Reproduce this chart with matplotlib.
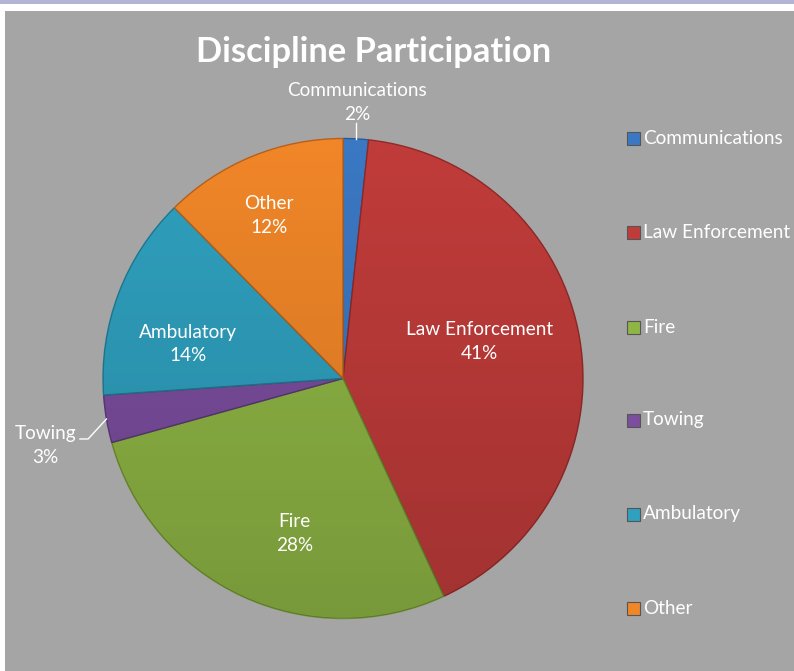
import numpy as np
import matplotlib
matplotlib.use("Agg")
import matplotlib.pyplot as plt
from matplotlib.patches import Rectangle, Circle

# ---- data ----
categories = ["Communications", "Law Enforcement", "Fire", "Towing", "Ambulatory", "Other"]
values = [1.7, 41.4, 27.6, 3.2, 13.7, 12.4]
title = "Discipline Participation"

# ---- style ----
colors = ["#3B78C3", "#C03C3A", "#8FB645", "#7B4E9E", "#2FA0BE", "#F08628"]
edge_colors = ["#2A5A96", "#8E2A29", "#6A8A2E", "#5A3878", "#1F7890", "#B8601A"]
FONT = ["Lato", "DejaVu Sans"]
plt.rcParams["font.family"] = FONT
W, H = 794, 671
BG = "#A5A5A5"
LABEL_FS = 13.7
LS = 1.47

fig = plt.figure(figsize=(W / 100, H / 100), dpi=100, facecolor="white")

def fx(x):
    return x / W

def fy(y):
    return 1 - y / H

# background panel and top border
fig.add_artist(Rectangle((fx(5), 0), 1 - fx(5), fy(11), transform=fig.transFigure,
                         facecolor=BG, edgecolor="none", zorder=0))
fig.add_artist(Rectangle((0, fy(3.5)), 1, 3.5 / H, transform=fig.transFigure,
                         facecolor="#B3B3D6", edgecolor="none", zorder=0))

# title
fig.text(fx(373.5), fy(52), title, ha="center", va="center", fontsize=24.8,
         fontweight="bold", color="white")

# pie axes
cx, cy, r = 343, 378.5, 240
ax = fig.add_axes([fx(cx - r), fy(cy + r), 2 * r / W, 2 * r / H])
ax.set_facecolor("none")
wedges, _ = ax.pie(values, colors=colors, startangle=90, counterclock=False,
                   radius=1.0, wedgeprops=dict(linewidth=1.0))
for w, ec in zip(wedges, edge_colors):
    w.set_edgecolor(ec)
ax.set_xlim(-1, 1)
ax.set_ylim(-1, 1)
ax.set_aspect("equal", adjustable="box")
ax.axis("off")

# subtle vertical shading overlay (lighter top, darker bottom)
grad = np.linspace(0, 1, 256).reshape(-1, 1)
shade = np.zeros((256, 1, 4))
shade[..., 3] = 0.16 * grad
im = ax.imshow(shade, extent=(-1, 1, -1, 1), origin="upper", zorder=3,
               aspect="auto", interpolation="bilinear")
clip = Circle((0, 0), 1.0, transform=ax.transData)
im.set_clip_path(clip)

# data labels (offsets relative to pie centre, in pie radii)
pcts = [f"{round(v / sum(values) * 100)}%" for v in values]
inside_pos = {1: (0.57, 0.154), 2: (-0.203, -0.645), 4: (-0.645, 0.144), 5: (-0.307, 0.679)}
for i, (x, y) in inside_pos.items():
    ax.text(x, y, f"{categories[i]}\n{pcts[i]}", ha="center", va="center",
            fontsize=LABEL_FS, color="white", linespacing=LS, zorder=5)

def mid_point(w):
    t = np.deg2rad((w.theta1 + w.theta2) / 2)
    return np.cos(t), np.sin(t)

# Communications (outside, leader up)
mx, my = mid_point(wedges[0])
ax.plot([mx, mx], [my, 1.065], color="white", lw=1, zorder=5, clip_on=False)
ax.text(0.058, 1.15, f"{categories[0]}\n{pcts[0]}", ha="center", va="center",
        fontsize=LABEL_FS, color="white", linespacing=LS, zorder=5, clip_on=False)

# Towing (outside, leader left)
mx, my = mid_point(wedges[3])
ax.plot([mx, -1.062, -1.096], [my, -0.252, -0.252], color="white", lw=1,
        zorder=5, clip_on=False)
ax.text(-1.24, -0.28, f"{categories[3]}\n{pcts[3]}", ha="center", va="center",
        fontsize=LABEL_FS, color="white", linespacing=LS, zorder=5, clip_on=False)

# legend
leg_y = [138, 232, 327, 420, 514, 608]
for cat, col, ec, y in zip(categories, colors, edge_colors, leg_y):
    fig.add_artist(Rectangle((fx(627), fy(y + 6.5)), 12.5 / W, 12.5 / H,
                             transform=fig.transFigure, facecolor=col,
                             edgecolor="#555555", linewidth=0.8))
    fig.text(fx(643), fy(y), cat, ha="left", va="center", fontsize=LABEL_FS,
             color="white")

fig.savefig("out.png", dpi=100, facecolor=fig.get_facecolor())
